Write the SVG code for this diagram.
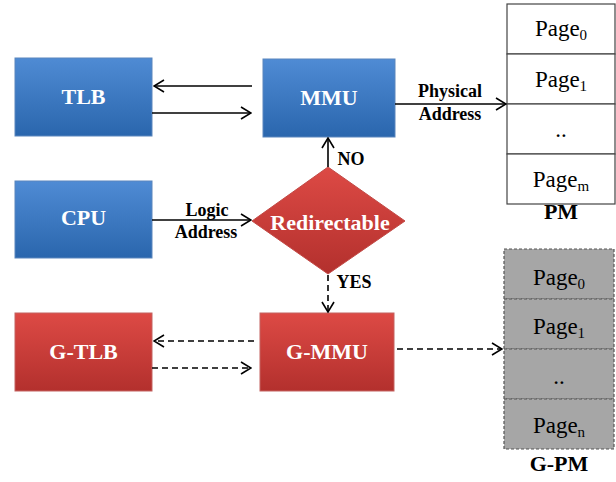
<svg xmlns="http://www.w3.org/2000/svg" width="616" height="482" viewBox="0 0 616 482" font-family="Liberation Serif, serif">
<style>
.lbl{font-weight:bold;font-size:22px;fill:#fff;text-anchor:middle}
.el{font-weight:bold;font-size:18px;fill:#000;text-anchor:middle}
.pm-l{font-weight:bold;font-size:22px;fill:#000;text-anchor:middle}
.pg{font-size:23px;fill:#000;text-anchor:middle}
.sub{font-size:15px}
.ln{stroke:#000;stroke-width:1.6;fill:none}
.dash{stroke-dasharray:6 4}
.pm{fill:#fff;stroke:#444;stroke-width:1.2}
.gpm{fill:#a6a6a6;stroke:#555;stroke-width:1.2;stroke-dasharray:3 2}
</style>
<defs>
<linearGradient id="blue" x1="0" y1="0" x2="0" y2="1">
<stop offset="0" stop-color="#4f8bd4"/><stop offset="1" stop-color="#2a66ad"/>
</linearGradient>
<linearGradient id="red" x1="0" y1="0" x2="0" y2="1">
<stop offset="0" stop-color="#dd4a45"/><stop offset="1" stop-color="#b3302d"/>
</linearGradient>
<marker id="ah" viewBox="0 0 12 14" refX="11" refY="7" markerWidth="12" markerHeight="14" markerUnits="userSpaceOnUse" orient="auto">
<path d="M1,1 L11,7 L1,13" fill="none" stroke="#000" stroke-width="1.6"/>
</marker>
</defs>

<g id="TLB"><rect x="15" y="58" width="137" height="78" fill="url(#blue)" stroke="#5a86bd" stroke-width="1"/><text class="lbl" font-family="Liberation Serif, serif" x="83.5" y="104">TLB</text></g>
<g id="MMU"><rect x="263" y="59" width="132" height="78" fill="url(#blue)" stroke="#5a86bd" stroke-width="1"/><text class="lbl" font-family="Liberation Serif, serif" x="329" y="105">MMU</text></g>
<g id="CPU"><rect x="15" y="181" width="137" height="77" fill="url(#blue)" stroke="#5a86bd" stroke-width="1"/><text class="lbl" font-family="Liberation Serif, serif" x="83.5" y="225">CPU</text></g>
<g id="Redirectable"><path d="M252,221 L328,167 L405,221 L328,274 Z" fill="url(#red)" stroke="#c24a46" stroke-width="1"/><text class="lbl" font-family="Liberation Serif, serif" x="330" y="230">Redirectable</text></g>
<g id="G-TLB"><rect x="15" y="313" width="137" height="78" fill="url(#red)" stroke="#c46360" stroke-width="1"/><text class="lbl" font-family="Liberation Serif, serif" x="83.5" y="359">G-TLB</text></g>
<g id="G-MMU"><rect x="260" y="313" width="134" height="78" fill="url(#red)" stroke="#c46360" stroke-width="1"/><text class="lbl" font-family="Liberation Serif, serif" x="327" y="359">G-MMU</text></g>

<g id="PM" font-family="Liberation Serif, serif">
<rect class="pm" x="507" y="4" width="108" height="50"/>
<rect class="pm" x="507" y="54" width="108" height="50"/>
<rect class="pm" x="507" y="104" width="108" height="50"/>
<rect class="pm" x="507" y="154" width="108" height="50"/>
<text class="pg" font-family="Liberation Serif, serif" x="561" y="36">Page<tspan class="sub" dy="4">0</tspan></text>
<text class="pg" font-family="Liberation Serif, serif" x="561" y="87">Page<tspan class="sub" dy="4">1</tspan></text>
<text class="pg" font-family="Liberation Serif, serif" x="561" y="137">..</text>
<text class="pg" font-family="Liberation Serif, serif" x="561" y="187">Page<tspan class="sub" dy="4">m</tspan></text>
<text class="pm-l" font-family="Liberation Serif, serif" x="561" y="219">PM</text>
</g>
<g id="G-PM" font-family="Liberation Serif, serif">
<rect class="gpm" x="504" y="249" width="110" height="50"/>
<rect class="gpm" x="504" y="299" width="110" height="50"/>
<rect class="gpm" x="504" y="349" width="110" height="50"/>
<rect class="gpm" x="504" y="399" width="110" height="50"/>
<text class="pg" font-family="Liberation Serif, serif" x="559" y="285">Page<tspan class="sub" dy="4">0</tspan></text>
<text class="pg" font-family="Liberation Serif, serif" x="559" y="334">Page<tspan class="sub" dy="4">1</tspan></text>
<text class="pg" font-family="Liberation Serif, serif" x="559" y="384">..</text>
<text class="pg" font-family="Liberation Serif, serif" x="559" y="433">Page<tspan class="sub" dy="4">n</tspan></text>
<text class="pm-l" font-family="Liberation Serif, serif" x="559" y="471">G-PM</text>
</g>

<g id="connectors" font-family="Liberation Serif, serif">
<line class="ln" x1="252" y1="86" x2="154" y2="86" marker-end="url(#ah)"/>
<line class="ln" x1="152" y1="113" x2="251" y2="113" marker-end="url(#ah)"/>
<line class="ln" x1="152" y1="220" x2="251" y2="220" marker-end="url(#ah)"/>
<line class="ln" x1="328" y1="167" x2="328" y2="138" marker-end="url(#ah)"/>
<line class="ln" x1="395" y1="104" x2="506" y2="104" marker-end="url(#ah)"/>
<line class="ln dash" x1="328" y1="275" x2="328" y2="312" marker-end="url(#ah)"/>
<line class="ln dash" x1="254" y1="341" x2="154" y2="341" marker-end="url(#ah)"/>
<line class="ln dash" x1="152" y1="368" x2="251" y2="368" marker-end="url(#ah)"/>
<line class="ln dash" x1="397" y1="349" x2="502" y2="349" marker-end="url(#ah)"/>
<text class="el" font-family="Liberation Serif, serif" x="207" y="216">Logic</text>
<text class="el" font-family="Liberation Serif, serif" x="206" y="238">Address</text>
<text class="el" font-family="Liberation Serif, serif" x="450" y="97">Physical</text>
<text class="el" font-family="Liberation Serif, serif" x="450" y="120">Address</text>
<text class="el" font-family="Liberation Serif, serif" x="351" y="165">NO</text>
<text class="el" font-family="Liberation Serif, serif" x="354" y="288">YES</text>
</g>
</svg>
